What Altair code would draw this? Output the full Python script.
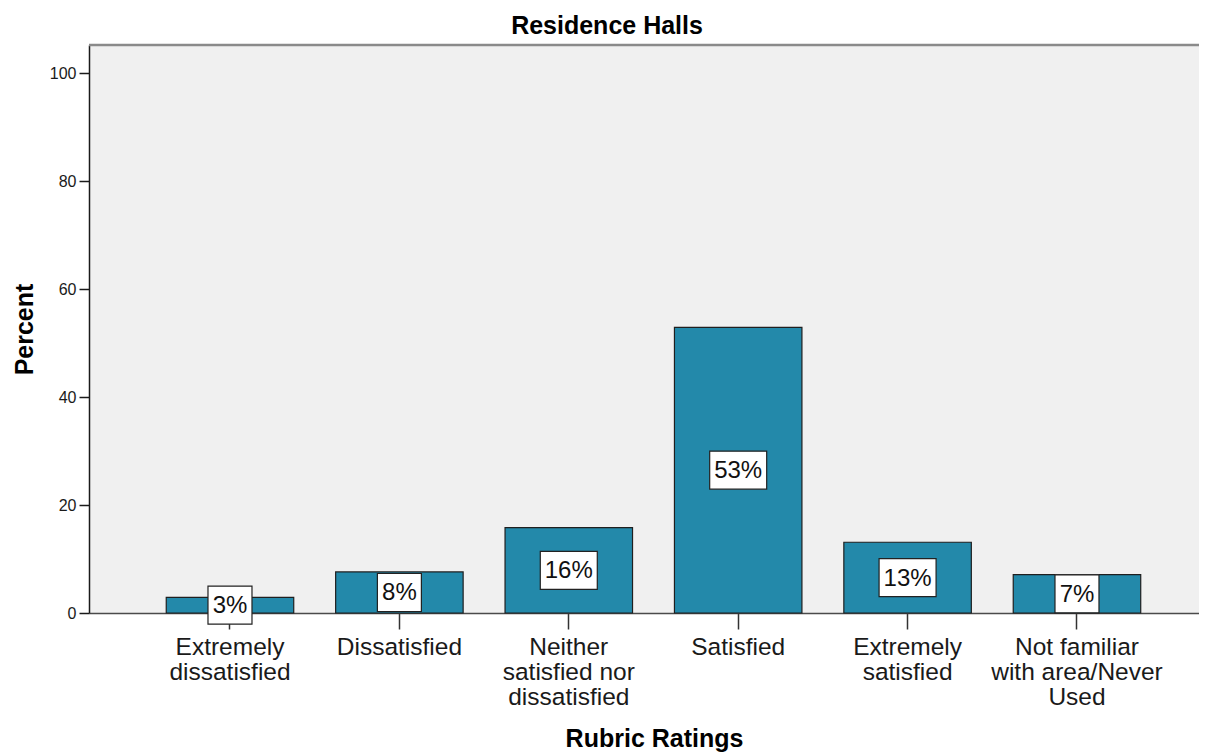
import altair as alt
import pandas as pd

# ---- data ----
categories = [
    "Extremely dissatisfied",
    "Dissatisfied",
    "Neither satisfied nor dissatisfied",
    "Satisfied",
    "Extremely satisfied",
    "Not familiar with area/Never Used",
]
tick_lines = [
    ["Extremely", "dissatisfied"],
    ["Dissatisfied"],
    ["Neither", "satisfied nor", "dissatisfied"],
    ["Satisfied"],
    ["Extremely", "satisfied"],
    ["Not familiar", "with area/Never", "Used"],
]
percent = [2.9, 7.6, 15.8, 52.9, 13.1, 7.1]
labels = ["3%", "8%", "16%", "53%", "13%", "7%"]
y_ticks = [0, 20, 40, 60, 80, 100]

df = pd.DataFrame({"category": categories, "percent": percent, "label": labels})

W, H = 1110, 568
FONT = "Liberation Sans"
BAR = "#2389AA"


def js_list(lines):
    return "[" + ",".join("'" + l + "'" for l in lines) + "]"


label_expr = "datum.label"
for c, lines in reversed(list(zip(categories, tick_lines))):
    label_expr = f"datum.value == '{c}' ? {js_list(lines)} : ({label_expr})"

x_enc = alt.X(
    "category:N",
    sort=categories,
    scale=alt.Scale(paddingInner=0.2474, paddingOuter=0.40, align=0.570),
    axis=alt.Axis(
        title="Rubric Ratings",
        labelAngle=0,
        labelExpr=label_expr,
        labelFont=FONT,
        labelFontSize=24.5,
        labelLineHeight=25,
        labelColor="#1a1a1a",
        labelPadding=6,
        labelLimit=400,
        domainColor="#4a4a4a",
        domainWidth=1.5,
        tickColor="#333333",
        tickWidth=1.5,
        tickSize=16,
        titleFont=FONT,
        titleFontSize=25,
        titleFontWeight="bold",
        titleColor="#000000",
        titleBaseline="alphabetic",
        titleX=565,
        titleY=133,
    ),
)

y_enc = alt.Y(
    "percent:Q",
    scale=alt.Scale(domain=[0, 105.2], nice=False, zero=True),
    axis=alt.Axis(
        values=y_ticks,
        title="Percent",
        grid=False,
        labelFont=FONT,
        labelFontSize=16,
        labelColor="#1a1a1a",
        labelPadding=3,
        domainColor="#1a1a1a",
        domainWidth=1.5,
        tickColor="#1a1a1a",
        tickWidth=1.5,
        tickSize=10,
        titleFont=FONT,
        titleFontSize=25,
        titleFontWeight="bold",
        titleColor="#000000",
        titleBaseline="alphabetic",
        titleX=-57,
    ),
)

base = alt.Chart(df)

bars = base.mark_bar(color=BAR, stroke="#1f1f1f", strokeWidth=1.2).encode(
    x=x_enc, y=y_enc
)

mid = base.transform_calculate(mid="datum.percent / 2")

narrow_path = "M-1,-0.8636L1,-0.8636L1,0.8636L-1,0.8636Z"
wide_path = "M-1,-0.6667L1,-0.6667L1,0.6667L-1,0.6667Z"

box_narrow = mid.transform_filter("length(datum.label) <= 2").mark_point(
    shape=narrow_path, size=1936, filled=True, fill="white", stroke="#222222",
    strokeWidth=1.2, opacity=1,
).encode(x=alt.X("category:N", sort=categories), y="mid:Q")

box_wide = mid.transform_filter("length(datum.label) > 2").mark_point(
    shape=wide_path, size=3249, filled=True, fill="white", stroke="#222222",
    strokeWidth=1.2, opacity=1,
).encode(x=alt.X("category:N", sort=categories), y="mid:Q")

texts = mid.mark_text(
    font=FONT, fontSize=24, color="#111111", baseline="middle", dy=1
).encode(x=alt.X("category:N", sort=categories), y="mid:Q", text="label:N")

top_border = alt.Chart(pd.DataFrame({"k": [0]})).mark_rule(
    color="#8a8a8a", strokeWidth=2.5
).encode(x=alt.value(0), x2=alt.value(W), y=alt.value(0))

chart = (
    alt.layer(bars, box_narrow, box_wide, texts, top_border)
    .properties(
        width=W,
        height=H,
        background="white",
        title=alt.TitleParams(
            "Residence Halls",
            font=FONT,
            fontSize=25,
            fontWeight="bold",
            color="#000000",
            anchor="middle",
            frame="group",
            baseline="alphabetic",
            offset=11,
            dx=-37,
            dy=26,
        ),
        padding={"left": 81, "top": 37, "right": 0, "bottom": 139},
        autosize=alt.AutoSizeParams(type="none"),
    )
    .configure_view(fill="#F0F0F0", strokeWidth=0)
)

chart.save("out.html", embed_options={"renderer": "svg", "actions": False})
